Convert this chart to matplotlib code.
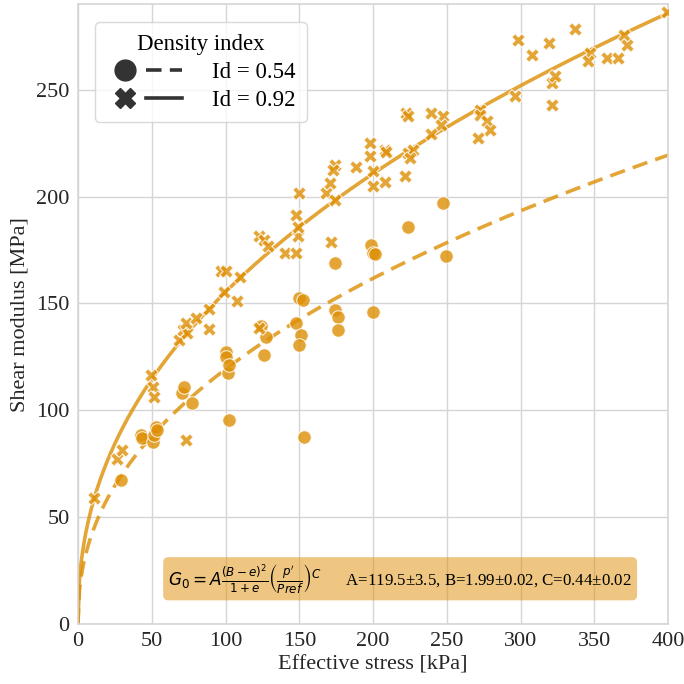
import numpy as np
import matplotlib
matplotlib.use("Agg")
import matplotlib.pyplot as plt
from matplotlib.lines import Line2D
from matplotlib.legend_handler import HandlerTuple

# measured points, Id = 0.54 (circles)
p_loose = [29, 42.5, 43.7, 50.5, 51.6, 52.7, 53.8, 70.8, 72, 77.6,
           100.3, 100.3, 101.4, 102.5, 102.5, 124, 127.4, 126.3,
           147.8, 150, 152.3, 151.2, 150, 153, 173.9, 173.9, 176, 176,
           198.8, 199.9, 201, 199.9, 223.6, 247.4, 249.7]
g_loose = [67.4, 88.5, 87, 85.4, 88.5, 92.4, 90.8, 108, 111, 103.3,
           127.5, 125, 117.4, 121, 95.5, 139.5, 134.5, 126,
           140.8, 152.5, 151.7, 135.3, 130.6, 87.5, 168.9, 147, 143.9, 137.6,
           177.4, 173.6, 173.3, 145.9, 186, 197, 172.4]

# measured points, Id = 0.92 (crosses)
p_dense = [10.9, 26.7, 30, 49.4, 50.5, 51.6, 73, 68.6, 71, 74, 73, 80,
           89, 89, 97, 100.3, 110, 99.2, 108, 123, 123, 126.3, 128.5,
           140, 147.8, 149, 149, 147.8, 150, 171.6, 168.2, 173.9, 170.5,
           173.9, 172.7, 188.6, 197.6, 197.6, 199.9, 199.9, 207.8, 207.8,
           209, 221.4, 223.6, 227, 224.8, 222.5, 223.5, 239.5, 247.4,
           246.3, 239.5, 272.3, 272.3, 276.9, 279.1, 271.2, 296, 298.4,
           307.4, 319.4, 336.8, 321, 323.3, 321, 347, 345.9, 358.3,
           366.2, 369.7, 371.9, 399]
g_dense = [59, 77, 81.5, 116.6, 111, 106.4, 86, 133, 137.6, 136, 141, 143,
           147.5, 138, 165, 165, 162.6, 155.6, 151, 138.4, 181.4, 179.8,
           176.7, 173.5, 173.5, 181.4, 186, 191.5, 201.6, 179, 201.6,
           198.5, 206.3, 215, 212.5, 214, 225, 218.8, 211.8, 205, 207,
           222, 221, 209.5, 220.3, 222, 218, 239, 237.5, 239, 237.5,
           233.6, 229.5, 240.6, 238.3, 235.2, 231.3, 227.3, 246.9, 273.4,
           266.4, 271.8, 278.4, 253, 256.3, 243, 267, 263.3, 264.7,
           264.7, 275.8, 271.1, 286.5]

# fit parameters
A, B, C = 119.5, 1.99, 0.44
p_ref = 100.0
void_ratio = [0.691, 0.564]
density_labels = ["Id = 0.54", "Id = 0.92"]

orange = "#DE8F05"
grid_c = "#d5d5d5"
dash = (0, (4.3, 2.3))

plt.rcParams["font.family"] = ["Liberation Serif", "DejaVu Serif"]
plt.rcParams["mathtext.fontset"] = "dejavusans"

fig = plt.figure(figsize=(6.84, 6.84), dpi=100)
ax = fig.add_axes([0.114, 0.0877, 0.863, 0.906])
ax.set_axisbelow(True)
ax.grid(True, color=grid_c, lw=1.0)
for s in ax.spines.values():
    s.set_color(grid_c)
    s.set_linewidth(1.2)
ax.tick_params(length=0, labelsize=16, pad=6, colors="#262626")

p = np.linspace(0, 400, 400)
for e, ls in zip(void_ratio, [dash, "-"]):
    g = A * (B - e) ** 2 / (1 + e) * (p / p_ref) ** C
    ax.plot(p, g, color=orange, alpha=0.8, lw=2.6, ls=ls, zorder=2)

ax.scatter(p_loose, g_loose, s=95, marker="o", color=orange, alpha=0.8,
           edgecolor="white", linewidth=0.8, zorder=3)
ax.scatter(p_dense, g_dense, s=95, marker="X", color=orange, alpha=0.8,
           edgecolor="white", linewidth=0.8, zorder=3)

ax.set_xlim(0, 400)
ax.set_ylim(0, 290)
ax.set_xticks(np.arange(0, 401, 50))
ax.set_yticks(np.arange(0, 251, 50))
ax.set_xlabel("Effective stress [kPa]", fontsize=16, color="#262626", labelpad=3)
ax.set_ylabel("Shear modulus [MPa]", fontsize=16, color="#262626", labelpad=5)

dk = "#333333"
h1 = (Line2D([], [], marker="o", ls="", color=dk, ms=15),
      Line2D([], [], ls=dash, color=dk, lw=2.6))
h2 = (Line2D([], [], marker="X", ls="", color=dk, ms=15),
      Line2D([], [], ls="-", color=dk, lw=2.6))
leg = ax.legend([h1, h2], density_labels, title="Density index",
                handler_map={tuple: HandlerTuple(ndivide=None, pad=0.15)},
                handlelength=3.3, handletextpad=1.3, loc="upper left",
                bbox_to_anchor=(0.029, 0.971), borderaxespad=0,
                fontsize=16.5, title_fontsize=16.5,
                borderpad=0.5, labelspacing=0.3, frameon=True)
leg.get_frame().set_edgecolor("#d0d0d0")
leg.get_frame().set_linewidth(1.0)

ax.text(0.153, 0.073,
        r"$G_0 = A\frac{(B-e)^2}{1+e}\left(\frac{p'}{Pref}\right)^C$"
        "      A=119.5±3.5, B=1.99±0.02, C=0.44±0.02",
        transform=ax.transAxes, fontsize=12.2, va="center", ha="left",
        bbox=dict(boxstyle="round,pad=0.3", facecolor=orange, alpha=0.5,
                  edgecolor="none"), zorder=5)

fig.savefig("out.png", dpi=100)
